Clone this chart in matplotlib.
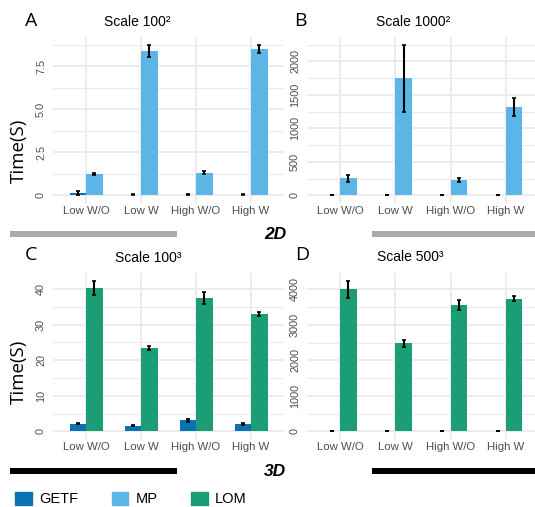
import numpy as np
import matplotlib.pyplot as plt
from matplotlib.patches import Patch
from matplotlib.lines import Line2D
from matplotlib.ticker import MultipleLocator, FuncFormatter

W, H = 535, 507

categories = ['Low W/O', 'Low W', 'High W/O', 'High W']

# 2D, scale 100^2
getf_a = [0.15, 0.05, 0.05, 0.05]
getf_a_err = [0.10, 0.02, 0.02, 0.02]
mp_a = [1.25, 8.37, 1.33, 8.50]
mp_a_err = [0.07, 0.36, 0.07, 0.25]

# 2D, scale 1000^2
getf_b = [5, 5, 5, 5]
getf_b_err = [3, 3, 3, 3]
mp_b = [253, 1746, 233, 1320]
mp_b_err = [55, 505, 28, 137]

# 3D, scale 100^3
getf_c = [2.2, 1.6, 3.1, 2.1]
getf_c_err = [0.2, 0.2, 0.4, 0.2]
lom_c = [40.4, 23.4, 37.5, 32.9]
lom_c_err = [2.0, 0.5, 1.7, 0.6]

# 3D, scale 500^3
getf_d = [10, 10, 10, 10]
getf_d_err = [5, 5, 5, 5]
lom_d = [4000, 2475, 3560, 3735]
lom_d_err = [245, 95, 150, 70]

c_getf = '#0b72b3'
c_mp = '#5bb5e6'
c_lom = '#1b9e75'
grid_c = '#ebebeb'
txt_c = '#4d4d4d'

plt.rcParams['font.family'] = ['Liberation Sans', 'DejaVu Sans']


def fx(px):
    return px / W


def fy(py):
    return 1 - py / H


def box(l, t, r, b):
    return [fx(l), fy(b), (r - l) / W, (b - t) / H]


fig = plt.figure(figsize=(W / 100, H / 100), dpi=100)

panels = [
    (box(53, 37, 284, 203), getf_a, getf_a_err, mp_a, mp_a_err, c_mp, 2.5, '{:.1f}'),
    (box(307, 37, 539, 203), getf_b, getf_b_err, mp_b, mp_b_err, c_mp, 500, '{:.0f}'),
    (box(53, 273, 284, 439), getf_c, getf_c_err, lom_c, lom_c_err, c_lom, 10, '{:.0f}'),
    (box(307, 273, 539, 439), getf_d, getf_d_err, lom_d, lom_d_err, c_lom, 1000, '{:.0f}'),
]

x = np.arange(len(categories))
bw = 0.3
for pos, g, ge, s, se, col, step, fmt in panels:
    ax = fig.add_axes(pos)
    ax.set_axisbelow(True)
    ax.bar(x - bw / 2, g, bw, color=c_getf)
    ax.bar(x + bw / 2, s, bw, color=col)
    ax.errorbar(x - bw / 2, g, yerr=ge, fmt='none', ecolor='black',
                elinewidth=1.5, capsize=1.2, capthick=1.2)
    ax.errorbar(x + bw / 2, s, yerr=se, fmt='none', ecolor='black',
                elinewidth=1.5, capsize=1.2, capthick=1.2)
    top = max(np.array(s) + np.array(se))
    ax.set_ylim(-0.05 * top, 1.05 * top)
    ax.set_xlim(-0.6, len(categories) - 0.4)
    ax.set_xticks(x)
    ax.set_xticklabels(categories)
    ax.yaxis.set_major_locator(MultipleLocator(step))
    ax.yaxis.set_minor_locator(MultipleLocator(step / 2))
    ax.yaxis.set_major_formatter(FuncFormatter(
        lambda v, p, f=fmt: '0' if abs(v) < 1e-9 else f.format(v)))
    ax.grid(axis='y', which='major', color=grid_c, lw=1.3)
    ax.grid(axis='y', which='minor', color=grid_c, lw=0.8)
    ax.grid(axis='x', which='major', color=grid_c, lw=1.3)
    for sp in ax.spines.values():
        sp.set_visible(False)
    ax.tick_params(axis='x', length=0, pad=2.5, labelsize=8.2, labelcolor=txt_c)
    ax.tick_params(axis='y', which='both', length=0, pad=5, labelsize=7.8,
                   labelcolor=txt_c, labelrotation=90)
    for lab in ax.get_yticklabels():
        lab.set_va('center')

# panel letters and titles
for lx, ly, s in [(31, 21, 'A'), (300, 21, 'B'), (31, 255, 'C'), (302, 255, 'D')]:
    fig.text(fx(lx), fy(ly), s, fontsize=14, family='Open Sans',
             ha='center', va='center')
for tx, ty, s in [(137, 22, 'Scale 100²'), (413, 22, 'Scale 1000²'),
                  (148, 258, 'Scale 100³'), (410, 257, 'Scale 500³')]:
    fig.text(fx(tx), fy(ty), s, fontsize=10, ha='center', va='center')
for ty in [151, 372]:
    fig.text(fx(19), fy(ty), 'Time(S)', fontsize=13.5, family='Open Sans',
             rotation=90, ha='center', va='center')

# dimension separators
for y, c, lab in [(233.5, '#aaaaaa', '2D'), (471, 'black', '3D')]:
    fig.add_artist(Line2D([fx(10), fx(177)], [fy(y), fy(y)], color=c, lw=4.3,
                          solid_capstyle='butt'))
    fig.add_artist(Line2D([fx(372), fx(535)], [fy(y), fy(y)], color=c, lw=4.3,
                          solid_capstyle='butt'))
    fig.text(fx(275), fy(y + 1), lab, fontsize=12.5, fontweight='bold',
             fontstyle='italic', ha='center', va='center')

handles = [Patch(color=c_getf, label='GETF'), Patch(color=c_mp, label='MP'),
           Patch(color=c_lom, label='LOM')]
fig.legend(handles=handles, loc='center left', bbox_to_anchor=(fx(15), fy(499)),
           ncol=3, frameon=False, fontsize=10.5, borderpad=0, borderaxespad=0,
           handlelength=1.16, handleheight=1.0, handletextpad=0.48,
           columnspacing=2.3)

fig.savefig('out.png', dpi=100)
